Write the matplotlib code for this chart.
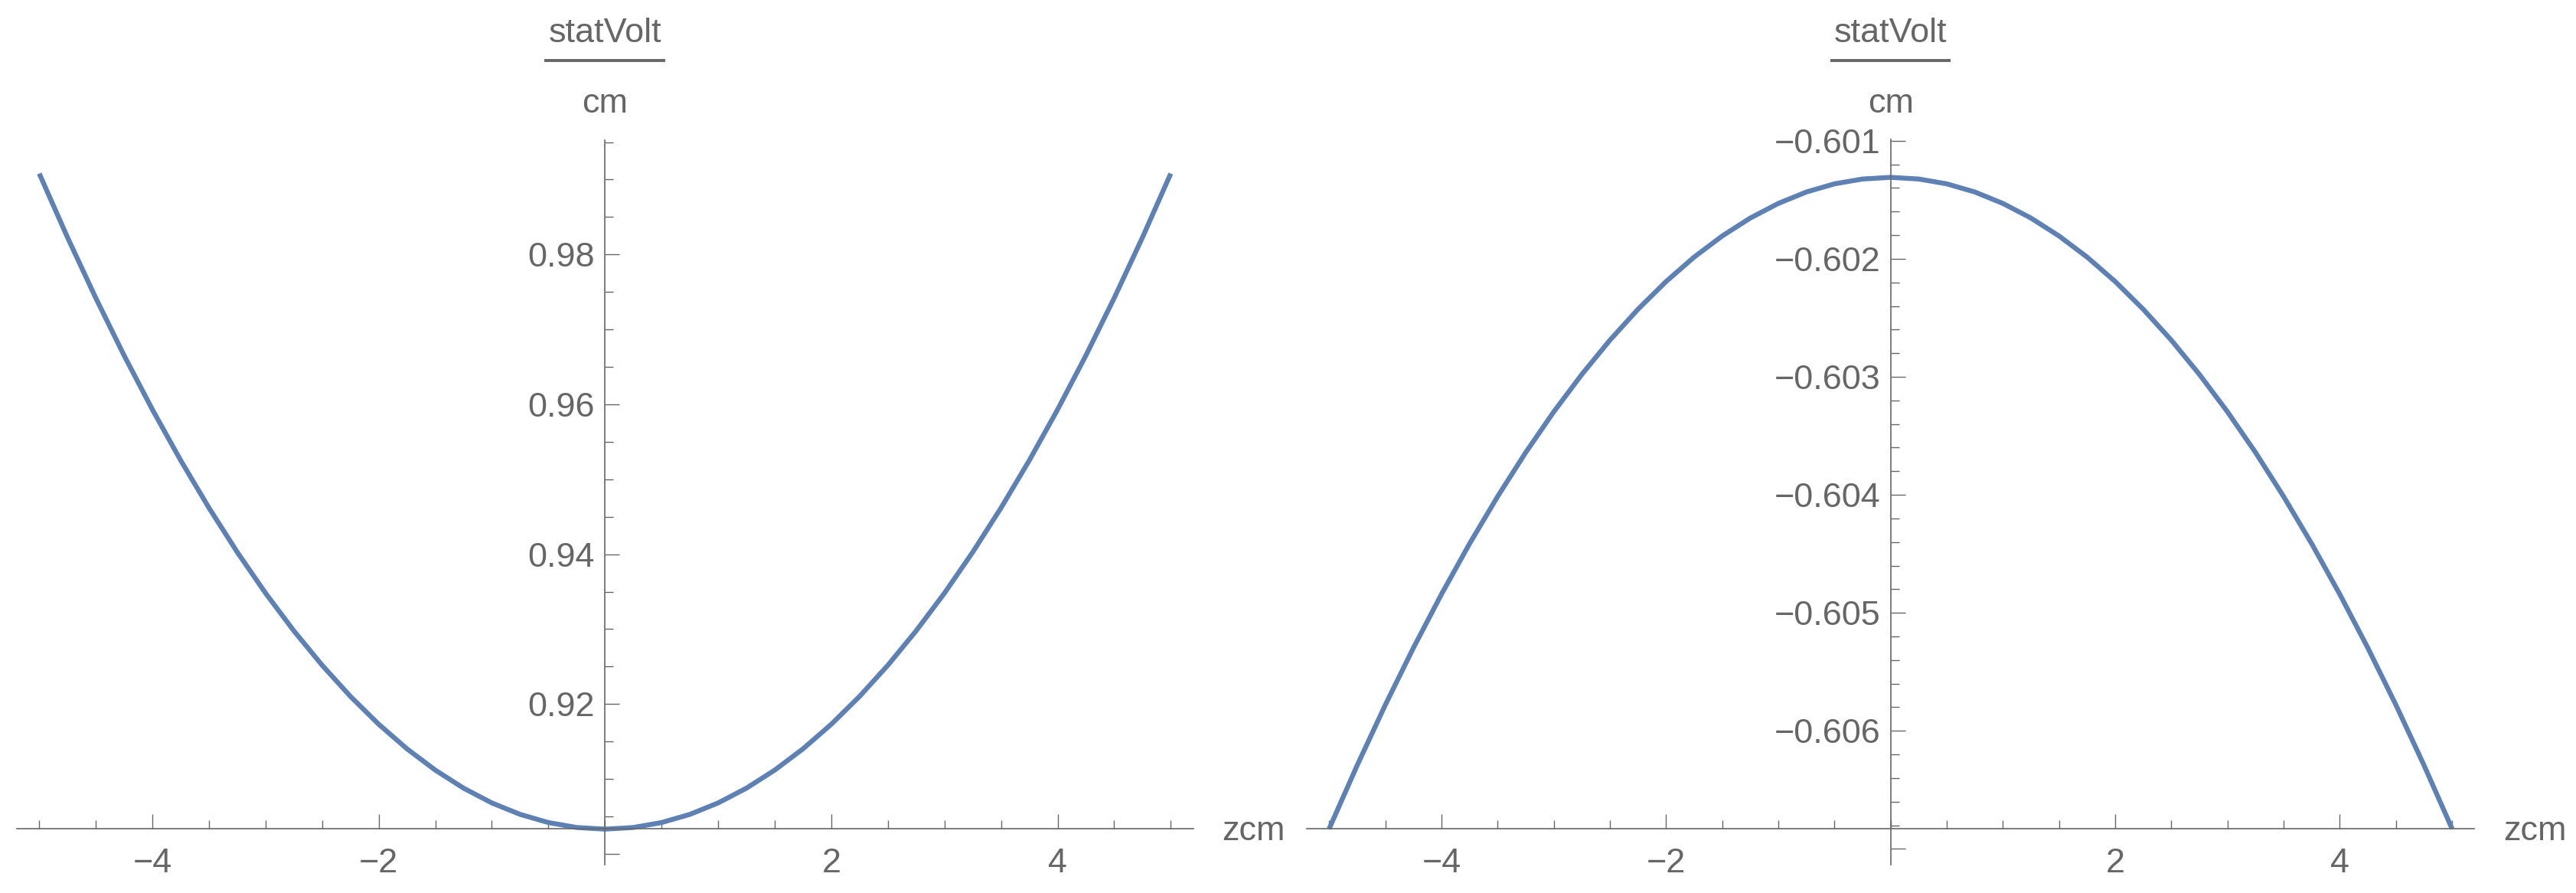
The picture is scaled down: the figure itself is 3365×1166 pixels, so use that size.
import numpy as np
import matplotlib
matplotlib.use("Agg")
import matplotlib.pyplot as plt
from matplotlib.transforms import blended_transform_factory

plt.rcParams['font.family'] = ['Liberation Sans', 'DejaVu Sans']

# z positions (cm) along the curve
zcm = [-5.0, -4.75, -4.5, -4.25, -4.0, -3.75, -3.5, -3.25, -3.0, -2.75, -2.5,
       -2.25, -2.0, -1.75, -1.5, -1.25, -1.0, -0.75, -0.5, -0.25, 0.0,
       0.25, 0.5, 0.75, 1.0, 1.25, 1.5, 1.75, 2.0, 2.25, 2.5,
       2.75, 3.0, 3.25, 3.5, 3.75, 4.0, 4.25, 4.5, 4.75, 5.0]

# left panel field (statVolt/cm)
field_left = [0.99080, 0.98227, 0.97418, 0.96652, 0.95930, 0.95252, 0.94618,
              0.94027, 0.93480, 0.92977, 0.92518, 0.92102, 0.91730, 0.91402,
              0.91118, 0.90877, 0.90680, 0.90527, 0.90418, 0.90352, 0.90330,
              0.90352, 0.90418, 0.90527, 0.90680, 0.90877, 0.91118, 0.91402,
              0.91730, 0.92102, 0.92518, 0.92977, 0.93480, 0.94027, 0.94618,
              0.95252, 0.95930, 0.96652, 0.97418, 0.98227, 0.99080]

# right panel field (statVolt/cm)
field_right = [-0.606830, -0.606292, -0.605781, -0.605298, -0.604843, -0.604415,
               -0.604015, -0.603642, -0.603297, -0.602980, -0.602690, -0.602428,
               -0.602193, -0.601986, -0.601807, -0.601655, -0.601531, -0.601434,
               -0.601365, -0.601324, -0.601310, -0.601324, -0.601365, -0.601434,
               -0.601531, -0.601655, -0.601807, -0.601986, -0.602193, -0.602428,
               -0.602690, -0.602980, -0.603297, -0.603642, -0.604015, -0.604415,
               -0.604843, -0.605298, -0.605781, -0.606292, -0.606830]

xticks_major = [-4, -2, 2, 4]
xtick_labels = ['\u22124', '\u22122', '2', '4']

yticks_left = [0.90, 0.92, 0.94, 0.96, 0.98]
ylabels_left = ['', '0.92', '0.94', '0.96', '0.98']
yticks_right = [-0.607, -0.606, -0.605, -0.604, -0.603, -0.602, -0.601]
ylabels_right = ['', '\u22120.606', '\u22120.605', '\u22120.604', '\u22120.603',
                 '\u22120.602', '\u22120.601']

blue = '#5e81b5'
grey = '#666666'
fs = 16.2

fig = plt.figure(figsize=(16.825, 5.83), dpi=200)
ax1 = fig.add_axes([0.00645, 0.03148, 0.45682, 0.81184])
ax2 = fig.add_axes([0.50725, 0.03148, 0.45337, 0.81220])


def style(ax, y, ylim, yaxis_at, yt, ylab, yminor):
    ax.plot(zcm, y, color=blue, lw=2.3, solid_capstyle='butt', clip_on=False)
    ax.set_xlim(-5.2, 5.2)
    ax.set_ylim(*ylim)
    for s in ['top', 'right']:
        ax.spines[s].set_visible(False)
    ax.spines['left'].set_position(('data', 0))
    ax.spines['bottom'].set_position(('data', yaxis_at))
    for s in ['left', 'bottom']:
        ax.spines[s].set_color(grey)
        ax.spines[s].set_linewidth(0.6)
    ax.set_xticks(xticks_major, xtick_labels)
    ax.set_xticks(np.arange(-5, 5.01, 0.5), minor=True)
    ax.set_yticks(yt, ylab)
    ax.set_yticks(yminor, minor=True)
    ax.tick_params(which='both', direction='in', colors=grey, labelcolor=grey,
                   labelsize=fs, width=0.5)
    ax.tick_params(which='major', length=6.7)
    ax.tick_params(which='minor', length=3.8)
    ax.tick_params(axis='x', pad=9)
    ax.tick_params(axis='y', pad=4.9)
    ax.patch.set_visible(False)

    tr = blended_transform_factory(ax.transData, ax.transAxes)
    ax.text(0, 1.1349, 'statVolt', transform=tr, ha='center', va='baseline',
            fontsize=fs, color=grey)
    ax.plot([-0.535, 0.535], [1.1092, 1.1092], transform=tr, clip_on=False,
            color=grey, lw=1.4, solid_capstyle='butt')
    ax.text(0, 1.0377, 'cm', transform=tr, ha='center', va='baseline',
            fontsize=fs, color=grey)
    ax.annotate('zcm', xy=(1, yaxis_at), xycoords=('axes fraction', 'data'),
                xytext=(13.5, -5.2), textcoords='offset points', ha='left',
                va='baseline', fontsize=fs, color=grey)


style(ax1, field_left, (0.89853, 0.99529), 0.90334, yticks_left, ylabels_left,
      np.arange(0.900, 0.9951, 0.005))
style(ax2, field_right, (-0.607136, -0.60099), -0.60683, yticks_right,
      ylabels_right, np.arange(-0.6070, -0.60099, 0.0002))

fig.savefig('out.png', dpi=200, facecolor='white')
